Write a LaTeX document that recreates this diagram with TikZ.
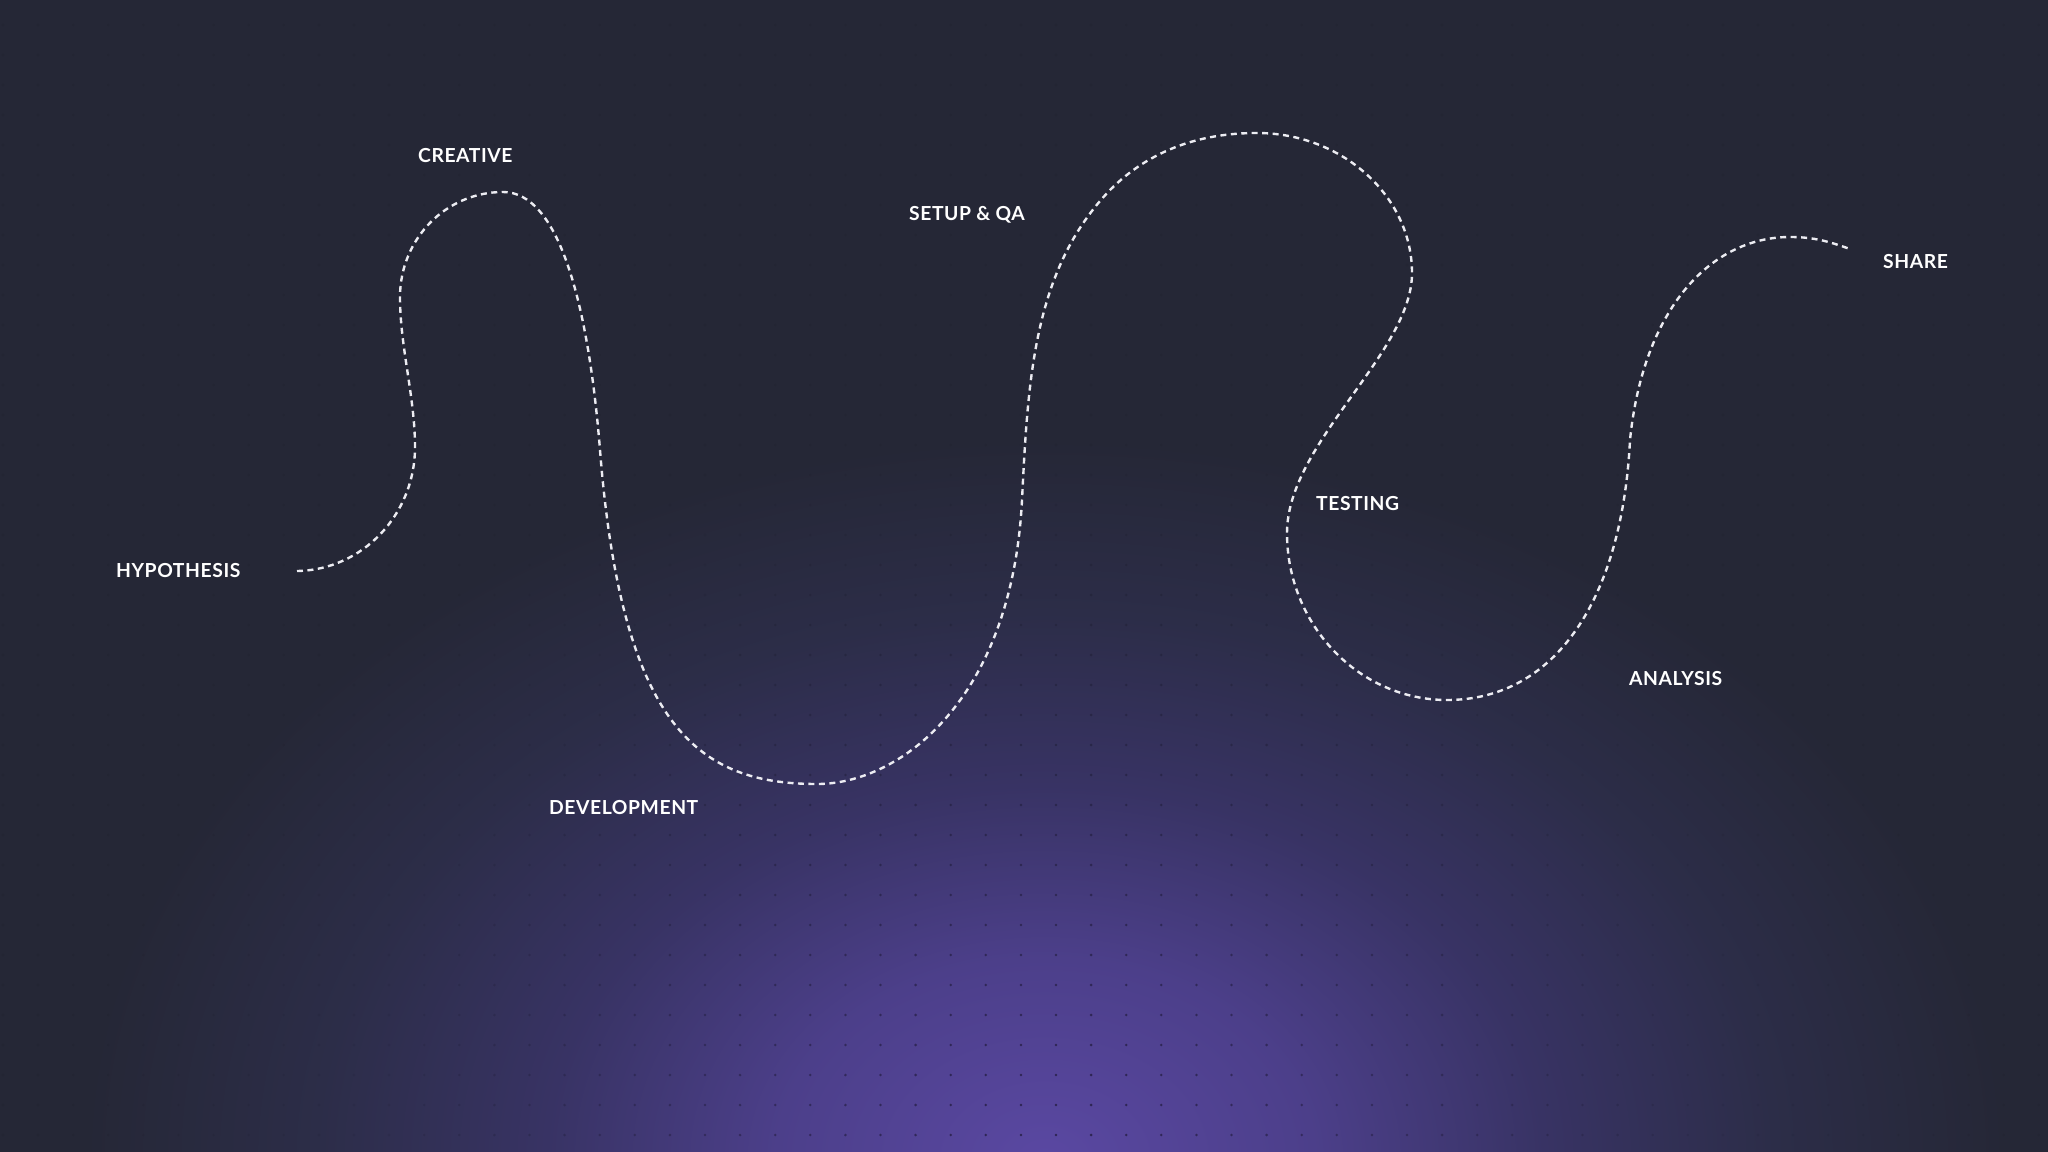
\documentclass[tikz,border=0pt]{standalone}
\usepackage{fontspec}
\setmainfont{Lato}[LetterSpace=3]
\usepackage{tikz}

\definecolor{bgc}{RGB}{37,39,54}
\definecolor{glowa}{RGB}{90,72,162}
\definecolor{glowb}{RGB}{76,63,138}
\definecolor{glowc}{RGB}{56,51,100}
\definecolor{glowd}{RGB}{44,45,72}
\definecolor{pathc}{RGB}{236,236,242}

\pgfdeclareradialshading{glow}{\pgfpoint{0bp}{0bp}}{color(0bp)=(glowa); color(7bp)=(glowb); color(13bp)=(glowc); color(19bp)=(glowd); color(25bp)=(bgc); color(50bp)=(bgc)}

\begin{document}
\begin{tikzpicture}[x=0.05cm,y=-0.05cm]
  \useasboundingbox (0,0) rectangle (2048,1152);
  \fill[bgc] (0,0) rectangle (2048,1152);
  \begin{scope}
    \clip (0,0) rectangle (2048,1152);
    \shade[shading=glow] (1045,1160) ellipse [x radius=960, y radius=720];
  \end{scope}

  % dot grid
  \foreach \i in {0,...,58}
    \foreach \j in {0,...,37}{
      \pgfmathsetmacro\px{3+35.1*\i}
      \pgfmathsetmacro\py{25+30*\j}
      \pgfmathsetmacro\op{max(0.05,0.5-veclen(\px-1045,\py-1150)/1500)}
      \fill[black,opacity=\op] (\px,\py) circle[radius=1.4];
    }

  % the route
  \draw[pathc, line width=3.4pt, dash pattern=on 8.5pt off 6.4pt]
    (297,571) .. controls (362,570) and (415,515) .. (415,447)
    .. controls (415,397) and (400,347) .. (400,297)
    .. controls (400,239) and (446,192) .. (503,192)
    .. controls (558,192) and (588,300) .. (600,450)
    .. controls (622,730) and (700,784) .. (817,784)
    .. controls (900,784) and (1012,700) .. (1022,500)
    .. controls (1028,380) and (1033,270) .. (1110,190)
    .. controls (1150,150) and (1200,133) .. (1257,133)
    .. controls (1342,133) and (1412,196) .. (1412,273)
    .. controls (1412,353) and (1287,443) .. (1287,533)
    .. controls (1287,625) and (1359,700) .. (1447,700)
    .. controls (1555,700) and (1622,600) .. (1630,440)
    .. controls (1643,310) and (1710,237) .. (1790,237)
    .. controls (1815,237) and (1830,242) .. (1850,249);

  \begin{scope}[every node/.style={white,inner sep=0pt,anchor=base west,
      font=\fontsize{27.5}{32}\selectfont\bfseries}]
    \node (hyp) at (116,577) {HYPOTHESIS};
    \node (cre) at (418,163) {CREATIVE};
    \node (dev) at (549,814) {DEVELOPMENT};
    \node (setup) at (909,220) {SETUP \& QA};
    \node (test) at (1316,510) {TESTING};
    \node (ana) at (1629,685) {ANALYSIS};
    \node (share) at (1883,268) {SHARE};
  \end{scope}
\end{tikzpicture}
\end{document}
